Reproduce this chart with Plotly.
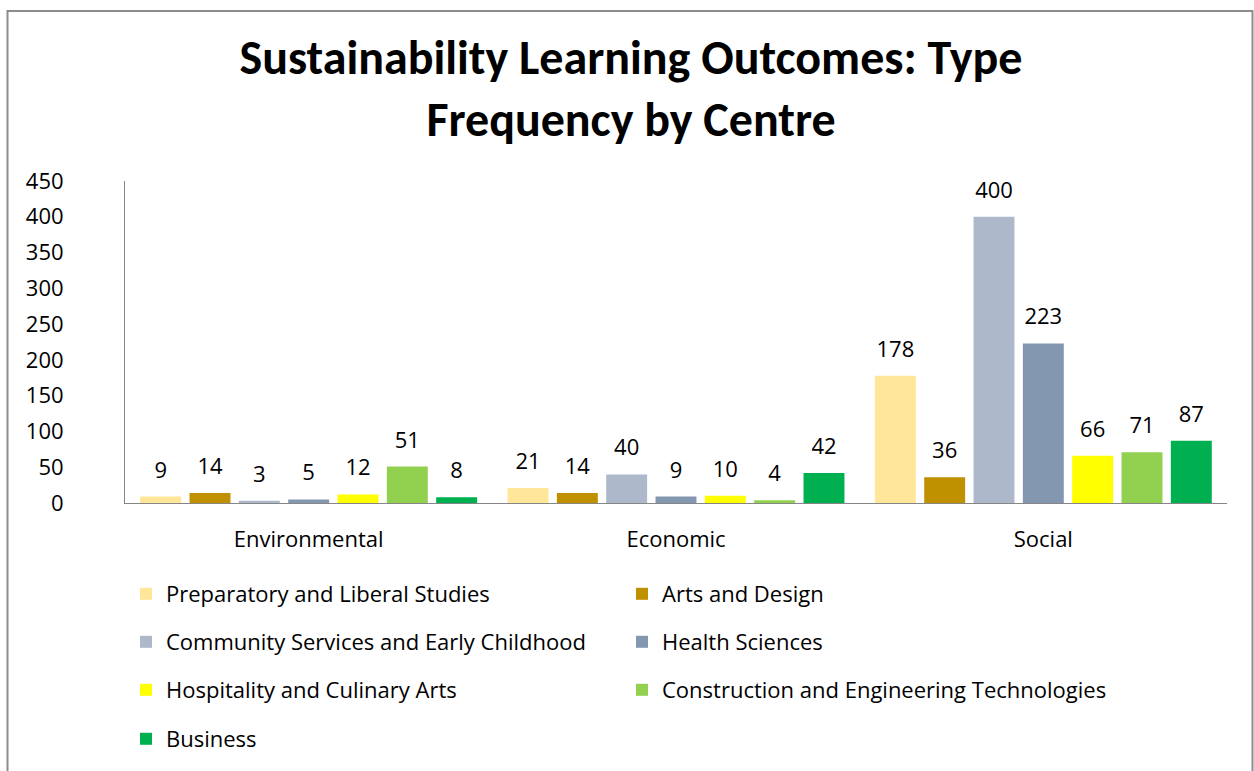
import plotly.graph_objects as go

categories = ["Environmental", "Economic", "Social"]
series_names = [
    "Preparatory and Liberal Studies",
    "Arts and Design",
    "Community Services and Early Childhood",
    "Health Sciences",
    "Hospitality and Culinary Arts",
    "Construction and Engineering Technologies",
    "Business",
]
prep = [9, 21, 178]
arts = [14, 14, 36]
community = [3, 40, 400]
health = [5, 9, 223]
hospitality = [12, 10, 66]
construction = [51, 4, 71]
business = [8, 42, 87]
values = [prep, arts, community, health, hospitality, construction, business]
colors = ["#FFE699", "#BF9000", "#ADB9CA", "#8497B0", "#FFFF00", "#92D050", "#00B050"]
y_ticks = [0, 50, 100, 150, 200, 250, 300, 350, 400, 450]

TITLE_FONT = "Carlito, Calibri, Lato, sans-serif"
FONT = "'Open Sans', 'Noto Sans', sans-serif"
legend_ids = ["legend", "legend", "legend2", "legend2", "legend3", "legend3", "legend4"]

GAP = 0.06

fig = go.Figure()
for name, vals, col, lg in zip(series_names, values, colors, legend_ids):
    fig.add_trace(go.Bar(
        x=categories, y=vals, name=name, marker_color=col, marker_line_width=0,
        legend=lg, hoverinfo="x+y+name",
    ))
for name, vals in zip(series_names, values):
    fig.add_trace(go.Scatter(
        x=categories, y=vals, mode="markers+text", text=vals,
        textposition="top center", cliponaxis=False, showlegend=False,
        marker=dict(size=20, color="rgba(0,0,0,0)"),
        textfont=dict(size=22, color="#000000", family=FONT),
        hoverinfo="skip", name=name,
    ))

W, H = 1254, 771
L, T = 125, 181
R = W - 1227
B = H - 504
pw, ph = W - L - R, H - T - B

def px(x):
    return (x - L) / pw

def py(y):
    return (H - B - y) / ph

leg_common = dict(orientation="h", entrywidth=451, entrywidthmode="pixels",
                  font=dict(size=22, family=FONT, color="#000000"),
                  bgcolor="rgba(0,0,0,0)", xanchor="left", yanchor="middle",
                  itemclick=False, itemdoubleclick=False)
rows = [594, 642, 690, 739]
leg_x = px(126)

fig.update_layout(
    width=W, height=H,
    margin=dict(l=L, r=R, t=T, b=B),
    paper_bgcolor="white", plot_bgcolor="white",
    font=dict(family=FONT, size=22, color="#000000"),
    title=dict(text="<b>Sustainability Learning Outcomes: Type<br>Frequency by Centre</b>",
               x=631 / W, xanchor="center", xref="container", yref="container",
               y=1 - 74 / H, yanchor="middle",
               font=dict(size=48, family=TITLE_FONT, color="#000000")),
    barmode="group", bargap=GAP, bargroupgap=0.17,
    scattermode="group", scattergap=GAP,
    xaxis=dict(showline=True, linecolor="#868686", linewidth=1, ticks="",
               tickfont=dict(size=22, family=FONT), ticklabelstandoff=17),
    yaxis=dict(range=[0, 450], tickvals=y_ticks, showgrid=False, zeroline=False,
               showline=True, linecolor="#868686", linewidth=1, ticks="",
               tickfont=dict(size=22, family=FONT), ticklabelstandoff=56),
    legend=dict(x=leg_x, y=py(rows[0]), **leg_common),
    legend2=dict(x=leg_x, y=py(rows[1]), **leg_common),
    legend3=dict(x=leg_x, y=py(rows[2]), **leg_common),
    legend4=dict(x=leg_x, y=py(rows[3]), **leg_common),
    shapes=[dict(type="rect", xref="paper", yref="paper",
                 x0=px(7.5), x1=px(1252.5), y0=py(800), y1=py(10.5),
                 line=dict(color="#8c8c8c", width=2), layer="below")],
)

fig.write_html(
    "out.html",
    config={"displayModeBar": False},
    post_script="document.body.style.margin='0';document.body.style.overflow='hidden';",
)
